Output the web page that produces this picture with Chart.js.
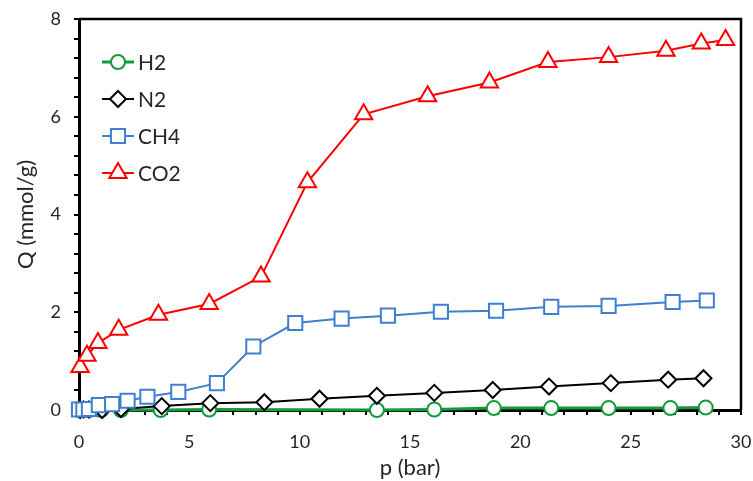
<!DOCTYPE html>
<html>
<head>
<meta charset="utf-8">
<script src="https://cdn.jsdelivr.net/npm/chart.js@4.4.0/dist/chart.umd.min.js"></script>
<style>
  html, body { margin: 0; padding: 0; background: #fff; }
</style>
</head>
<body>
<canvas id="isoChart" width="753" height="481"></canvas>
<script>
// adsorption isotherms, values
const gasLabels = ['H2', 'N2', 'CH4', 'CO2'];

const pH2 = [0.05, 0.2, 0.45, 1.0, 1.9, 3.7, 5.9, 13.5, 16.1, 18.8, 21.4, 24.0, 26.8, 28.4];
const qH2 = [0, 0, 0, 0, 0, 0, 0.01, 0.0, 0.01, 0.04, 0.04, 0.04, 0.04, 0.05];

const pN2 = [0.05, 0.2, 0.45, 1.05, 1.9, 3.75, 5.95, 8.4, 10.9, 13.5, 16.1, 18.75, 21.3, 24.1, 26.7, 28.3];
const qN2 = [0, 0.01, 0.01, 0.0, 0.02, 0.08, 0.14, 0.16, 0.23, 0.29, 0.35, 0.41, 0.48, 0.55, 0.62, 0.65];

const pCH4 = [0.0, 0.2, 0.45, 0.9, 1.5, 2.2, 3.1, 4.5, 6.25, 7.9, 9.8, 11.9, 14.0, 16.4, 18.9, 21.4, 24.0, 26.9, 28.45];
const qCH4 = [0.01, 0.01, 0.02, 0.1, 0.12, 0.19, 0.27, 0.37, 0.55, 1.3, 1.78, 1.87, 1.93, 2.01, 2.03, 2.11, 2.13, 2.21, 2.24];

const pCO2 = [0.05, 0.36, 0.86, 1.8, 3.6, 5.9, 8.25, 10.35, 12.9, 15.8, 18.6, 21.25, 24.0, 26.6, 28.2, 29.3];
const qCO2 = [0.88, 1.11, 1.37, 1.64, 1.95, 2.17, 2.73, 4.66, 6.05, 6.42, 6.7, 7.12, 7.22, 7.35, 7.5, 7.57];

const xTicksMajor = [0, 5, 10, 15, 20, 25, 30];
const yTicksMajor = [0, 2, 4, 6, 8];

const FONT = 'Lato, "Open Sans", sans-serif';
const TEXT = '#262626';

function pts(xs, ys) {
    return xs.map((x, i) => ({ x: x, y: ys[i] }));
}

// frame on top/right + legend drawn inside plot area
const framePlugin = {
    id: 'frame',
    afterDraw(chart) {
        const { ctx, chartArea: a } = chart;
        ctx.save();
        ctx.strokeStyle = '#000';
        ctx.lineWidth = 2.5;
        ctx.beginPath();
        ctx.moveTo(a.left, a.top);
        ctx.lineTo(a.right, a.top);
        ctx.lineTo(a.right, a.bottom);
        ctx.stroke();

        chart.data.datasets.forEach((ds, i) => {
            const cx = a.left + 39;
            const cy = a.top + 43 + i * 37;
            ctx.strokeStyle = ds.borderColor;
            ctx.lineWidth = ds.borderWidth;
            ctx.beginPath();
            ctx.moveTo(cx - 16, cy);
            ctx.lineTo(cx + 16, cy);
            ctx.stroke();
            ctx.fillStyle = '#fff';
            ctx.lineWidth = ds.pointBorderWidth;
            Chart.helpers.drawPoint(ctx, {
                pointStyle: ds.pointStyle,
                radius: ds.pointRadius,
                borderWidth: ds.pointBorderWidth,
                rotation: 0
            }, cx, cy);
            ctx.fillStyle = TEXT;
            ctx.font = '21px ' + FONT;
            ctx.textBaseline = 'middle';
            ctx.fillText(ds.label, cx + 20, cy + 1);
        });
        ctx.restore();
    }
};

function series(label, xs, ys, color, style, radius, width) {
    return {
        label: label,
        data: pts(xs, ys),
        borderColor: color,
        backgroundColor: '#fff',
        pointBackgroundColor: '#fff',
        pointBorderColor: color,
        pointStyle: style,
        pointRadius: radius,
        pointBorderWidth: 2,
        borderWidth: width,
        clip: false
    };
}

const datasets = [
    series(gasLabels[0], pH2, qH2, '#13993a', 'circle', 7, 3),
    series(gasLabels[1], pN2, qN2, '#000000', 'rectRot', 8, 2),
    series(gasLabels[2], pCH4, qCH4, '#3f7fd0', 'rect', 10, 2),
    series(gasLabels[3], pCO2, qCO2, '#ff0000', 'triangle', 10, 2)
];
// red on top, green underneath
datasets[0].order = 4;
datasets[1].order = 3;
datasets[2].order = 2;
datasets[3].order = 1;

new Chart(document.getElementById('isoChart'), {
    type: 'line',
    data: { datasets: datasets },
    plugins: [framePlugin],
    options: {
        responsive: false,
        animation: false,
        devicePixelRatio: 1,
        layout: { padding: { top: 0, right: 0, left: 0, bottom: 0 } },
        plugins: {
            legend: { display: false },
            tooltip: { enabled: false }
        },
        scales: {
            x: {
                type: 'linear',
                min: 0,
                max: 30,
                afterFit: s => {
                    s.height = 71;
                    s.paddingLeft = 0;
                    s.paddingRight = 12;
                },
                ticks: {
                    stepSize: 1,
                    autoSkip: false,
                    maxRotation: 0,
                    padding: 16,
                    color: TEXT,
                    font: { family: FONT, size: 18 },
                    callback: v => xTicksMajor.includes(v) ? v : ''
                },
                grid: { drawOnChartArea: false, tickLength: 5, color: '#000', lineWidth: 2 },
                border: { color: '#000', width: 3 },
                title: {
                    display: true,
                    text: 'p (bar)',
                    color: TEXT,
                    font: { family: FONT, size: 22 },
                    padding: { top: 0, bottom: 0 }
                }
            },
            y: {
                type: 'linear',
                min: 0,
                max: 8,
                afterFit: s => {
                    s.width = 79;
                    s.paddingTop = 19;
                    s.paddingBottom = 0;
                },
                ticks: {
                    stepSize: 0.4,
                    autoSkip: false,
                    padding: 13,
                    color: TEXT,
                    font: { family: FONT, size: 18 },
                    callback: v => yTicksMajor.some(t => Math.abs(t - v) < 1e-6) ? Math.round(v) : ''
                },
                grid: { drawOnChartArea: false, tickLength: 5, color: '#000', lineWidth: 2 },
                border: { color: '#000', width: 3 },
                title: {
                    display: true,
                    text: 'Q (mmol/g)',
                    color: TEXT,
                    font: { family: FONT, size: 22 },
                    padding: { top: 13, bottom: 0 }
                }
            }
        }
    }
});
</script>
</body>
</html>
